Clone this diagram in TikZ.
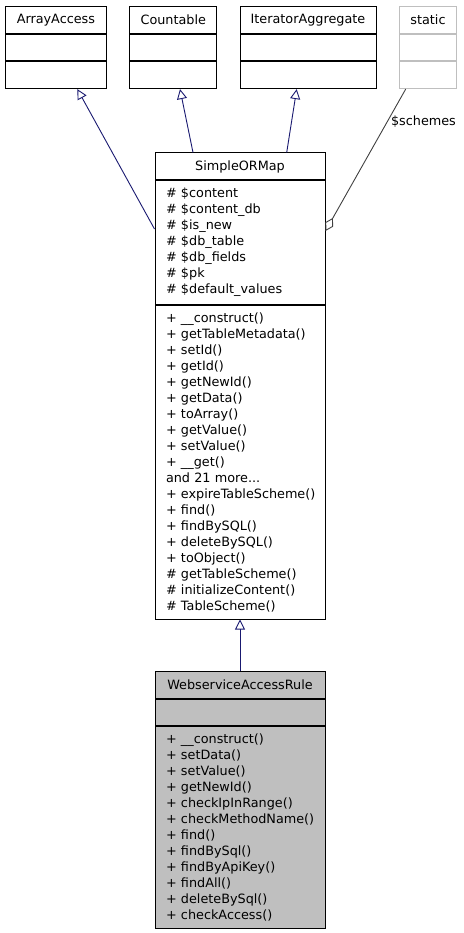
\documentclass[tikz,border=0pt]{standalone}
\usepackage{fontspec}
\setmainfont{DejaVu Sans}
\usetikzlibrary{positioning, arrows.meta}
\definecolor{edgeblue}{HTML}{191970}
\definecolor{edgegray}{HTML}{404040}
\definecolor{boxgray}{HTML}{BFBFBF}
\newcommand{\umlfont}{\fontsize{12.8}{16}\selectfont\hyphenpenalty=10000\exhyphenpenalty=10000\relax}
\tikzset{
  classhead/.style={draw=black, line width=1pt, inner sep=0pt, minimum height=27pt, font=\umlfont},
  classpart/.style={draw=black, line width=1pt, inner xsep=11pt, inner ysep=0pt, align=left, font=\umlfont},
  inherit/.style={edgeblue, line width=0.9pt, -{Triangle[open, length=10pt, width=10pt]}},
  usage/.style={edgegray, line width=0.9pt, -{Diamond[open, length=15pt, width=9pt]}},
}

\begin{document}
\begin{tikzpicture}[x=1pt, y=-1pt]
\useasboundingbox (0,0) rectangle (463,933);

% interfaces on top
\node[classhead, minimum width=101.7pt] (arrayaccess) at (55.9,19.7) {ArrayAccess};
\node[classhead, minimum width=101.7pt, minimum height=26.7pt, below=0pt of arrayaccess] (arrayaccessattr) {};
\node[classhead, minimum width=101.7pt, minimum height=26.7pt, below=0pt of arrayaccessattr] (arrayaccessops) {};

\node[classhead, minimum width=86.7pt] (countable) at (173.3,19.7) {Countable};
\node[classhead, minimum width=86.7pt, minimum height=26.7pt, below=0pt of countable] (countableattr) {};
\node[classhead, minimum width=86.7pt, minimum height=26.7pt, below=0pt of countableattr] (countableops) {};

\node[classhead, minimum width=136pt] (iteragg) at (308,19.7) {IteratorAggregate};
\node[classhead, minimum width=136pt, minimum height=26.7pt, below=0pt of iteragg] (iteraggattr) {};
\node[classhead, minimum width=136pt, minimum height=26.7pt, below=0pt of iteraggattr] (iteraggops) {};

\node[classhead, draw=boxgray, minimum width=57.3pt] (static) at (428,19.7) {static};
\node[classhead, draw=boxgray, minimum width=57.3pt, minimum height=26.7pt, below=0pt of static] (staticattr) {};
\node[classhead, draw=boxgray, minimum width=57.3pt, minimum height=26.7pt, below=0pt of staticattr] (staticops) {};

% SimpleORMap
\node[classhead, minimum width=170pt] (sorm) at (240,166.5) {SimpleORMap};
\node[classpart, text width=148pt, minimum height=123pt, below=0pt of sorm] (sormattr) {%
\#~\$content\\
\#~\$content\_db\\
\#~\$is\_new\\
\#~\$db\_table\\
\#~\$db\_fields\\
\#~\$pk\\
\#~\$default\_values};
\node[classpart, text width=148pt, minimum height=314pt, below=0pt of sormattr] (sormops) {%
+~\_\_construct()\\
+~getTableMetadata()\\
+~setId()\\
+~getId()\\
+~getNewId()\\
+~getData()\\
+~toArray()\\
+~getValue()\\
+~setValue()\\
+~\_\_get()\\
and 21 more...\\
+~expireTableScheme()\\
+~find()\\
+~findBySQL()\\
+~deleteBySQL()\\
+~toObject()\\
\#~getTableScheme()\\
\#~initializeContent()\\
\#~TableScheme()};

% WebserviceAccessRule
\node[classhead, fill=boxgray, minimum width=170pt] (wsar) at (240,684.5) {WebserviceAccessRule};
\node[classhead, fill=boxgray, minimum width=170pt, minimum height=26pt, below=0pt of wsar] (wsarattr) {};
\node[classpart, fill=boxgray, text width=148pt, minimum height=202pt, below=0pt of wsarattr] (wsarops) {%
+~\_\_construct()\\
+~setData()\\
+~setValue()\\
+~getNewId()\\
+~checkIpInRange()\\
+~checkMethodName()\\
+~find()\\
+~findBySql()\\
+~findByApiKey()\\
+~findAll()\\
+~deleteBySql()\\
+~checkAccess()};

% relations
\draw[inherit] ([yshift=13.5pt]sormattr.west) -- ([xshift=21.4pt]arrayaccessops.south);
\draw[inherit] ([xshift=-47pt]sorm.north) -- ([xshift=6.7pt]countableops.south);
\draw[inherit] ([xshift=46.7pt]sorm.north) -- ([xshift=-11.3pt]iteraggops.south);
\draw[usage] ([xshift=-22.3pt]staticops.south) -- node[right, pos=0.23, black, font=\umlfont] (schemes) {\$schemes} ([yshift=11.5pt]sormattr.east);
\draw[inherit] (wsar.north) -- (sormops.south);
\end{tikzpicture}
\end{document}
